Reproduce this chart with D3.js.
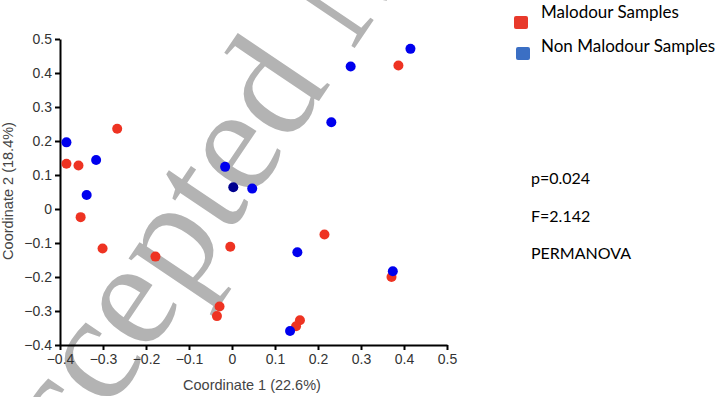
<!DOCTYPE html>
<html>
<head>
<meta charset="utf-8">
<script src="https://cdn.jsdelivr.net/npm/d3@7"></script>
<style>
  body { margin: 0; background: #fff; }
  svg { display: block; }
</style>
</head>
<body>
<svg id="chart"></svg>
<script>
// Ticks for both axes
const xTicks = [-0.4, -0.3, -0.2, -0.1, 0, 0.1, 0.2, 0.3, 0.4, 0.5];
const yTicks = [-0.4, -0.3, -0.2, -0.1, 0, 0.1, 0.2, 0.3, 0.4, 0.5];

// Malodour samples [coord 1, coord 2]
const malodour = [
  [0.387, 0.422], [-0.267, 0.236], [-0.385, 0.133], [-0.357, 0.128],
  [-0.352, -0.024], [-0.301, -0.116], [-0.178, -0.140], [-0.004, -0.111],
  [-0.029, -0.287], [-0.035, -0.315], [0.215, -0.075], [0.371, -0.200],
  [0.158, -0.327], [0.149, -0.345]
];

// Non malodour samples
const nonMalodour = [
  [0.415, 0.471], [0.276, 0.419], [0.231, 0.255], [-0.016, 0.124],
  [0.047, 0.060], [-0.385, 0.196], [-0.316, 0.144], [-0.338, 0.041],
  [0.152, -0.127], [0.374, -0.183], [0.135, -0.359]
];

// the darker overlapped point near the origin
const overlapped = [[0.003, 0.064]];

const legendLabels = ["Malodour Samples", "Non Malodour Samples"];
const statsLines = ["p=0.024", "F=2.142", "PERMANOVA"];

const width = 720, height = 397;
const svg = d3.select("#chart").attr("width", width).attr("height", height);

// watermark goes underneath everything
svg.append("text")
  .attr("transform", "translate(10,559) rotate(-56)")
  .attr("font-family", "Liberation Serif, Times New Roman, serif")
  .attr("font-size", 152)
  .attr("fill", "#b3b3b3")
  .text("Accepted Manuscript");

const xScale = d3.scaleLinear().domain([-0.4, 0.5]).range([60, 447]);
const yScale = d3.scaleLinear().domain([-0.4, 0.5]).range([345, 39]);

const fmt = d => d === 0 ? "0" : d3.format(".1f")(d);

const xAxis = svg.append("g")
  .attr("transform", `translate(0,${yScale(-0.4)})`)
  .call(d3.axisBottom(xScale).tickValues(xTicks).tickFormat(fmt).tickSize(5).tickSizeOuter(0).tickPadding(4));

const yAxis = svg.append("g")
  .attr("transform", `translate(${xScale(-0.4)},0)`)
  .call(d3.axisLeft(yScale).tickValues(yTicks).tickFormat(fmt).tickSize(5).tickSizeOuter(0).tickPadding(3));

[xAxis, yAxis].forEach(ax => {
  ax.select(".domain").attr("stroke", "#000").attr("stroke-width", 2);
  ax.selectAll(".tick line").attr("stroke", "#000").attr("stroke-width", 2);
  ax.selectAll(".tick text")
    .attr("font-family", "Liberation Sans, Arial, sans-serif")
    .attr("font-size", 14)
    .attr("fill", "#333");
});

// axis titles
svg.append("text")
  .attr("x", 252).attr("y", 390)
  .attr("text-anchor", "middle")
  .attr("font-family", "Liberation Sans, Arial, sans-serif")
  .attr("font-size", 14.5).attr("fill", "#444")
  .text("Coordinate 1 (22.6%)");

svg.append("text")
  .attr("transform", "translate(13,191) rotate(-90)")
  .attr("text-anchor", "middle")
  .attr("font-family", "Liberation Sans, Arial, sans-serif")
  .attr("font-size", 14.5).attr("fill", "#444")
  .text("Coordinate 2 (18.4%)");

// points
const drawPoints = (pts, color) => {
  svg.append("g").selectAll("circle")
    .data(pts)
    .enter()
    .append("circle")
    .attr("cx", d => xScale(d[0]))
    .attr("cy", d => yScale(d[1]))
    .attr("r", 5)
    .attr("fill", color);
};
drawPoints(malodour, "#ee3322");
drawPoints(nonMalodour, "#0000ee");
drawPoints(overlapped, "#00008f");

// legend
const legendColors = ["#e8392b", "#3b6fc4"];
const legend = svg.append("g");
legendLabels.forEach((label, i) => {
  legend.append("rect")
    .attr("x", 514 + i * 2).attr("y", 16 + i * 31)
    .attr("width", 14).attr("height", 13)
    .attr("rx", 2)
    .attr("fill", legendColors[i]);
  legend.append("text")
    .attr("x", 541).attr("y", 18 + i * 34)
    .attr("font-family", "Lato, Carlito, sans-serif")
    .attr("font-size", 17).attr("fill", "#000")
    .text(label);
});

// PERMANOVA stats
svg.append("g").selectAll("text")
  .data(statsLines)
  .enter()
  .append("text")
  .attr("x", 531)
  .attr("y", (d, i) => 184 + i * 37.5)
  .attr("font-family", "Lato, Carlito, sans-serif")
  .attr("font-size", 16).attr("fill", "#000")
  .text(d => d);
</script>
</body>
</html>
